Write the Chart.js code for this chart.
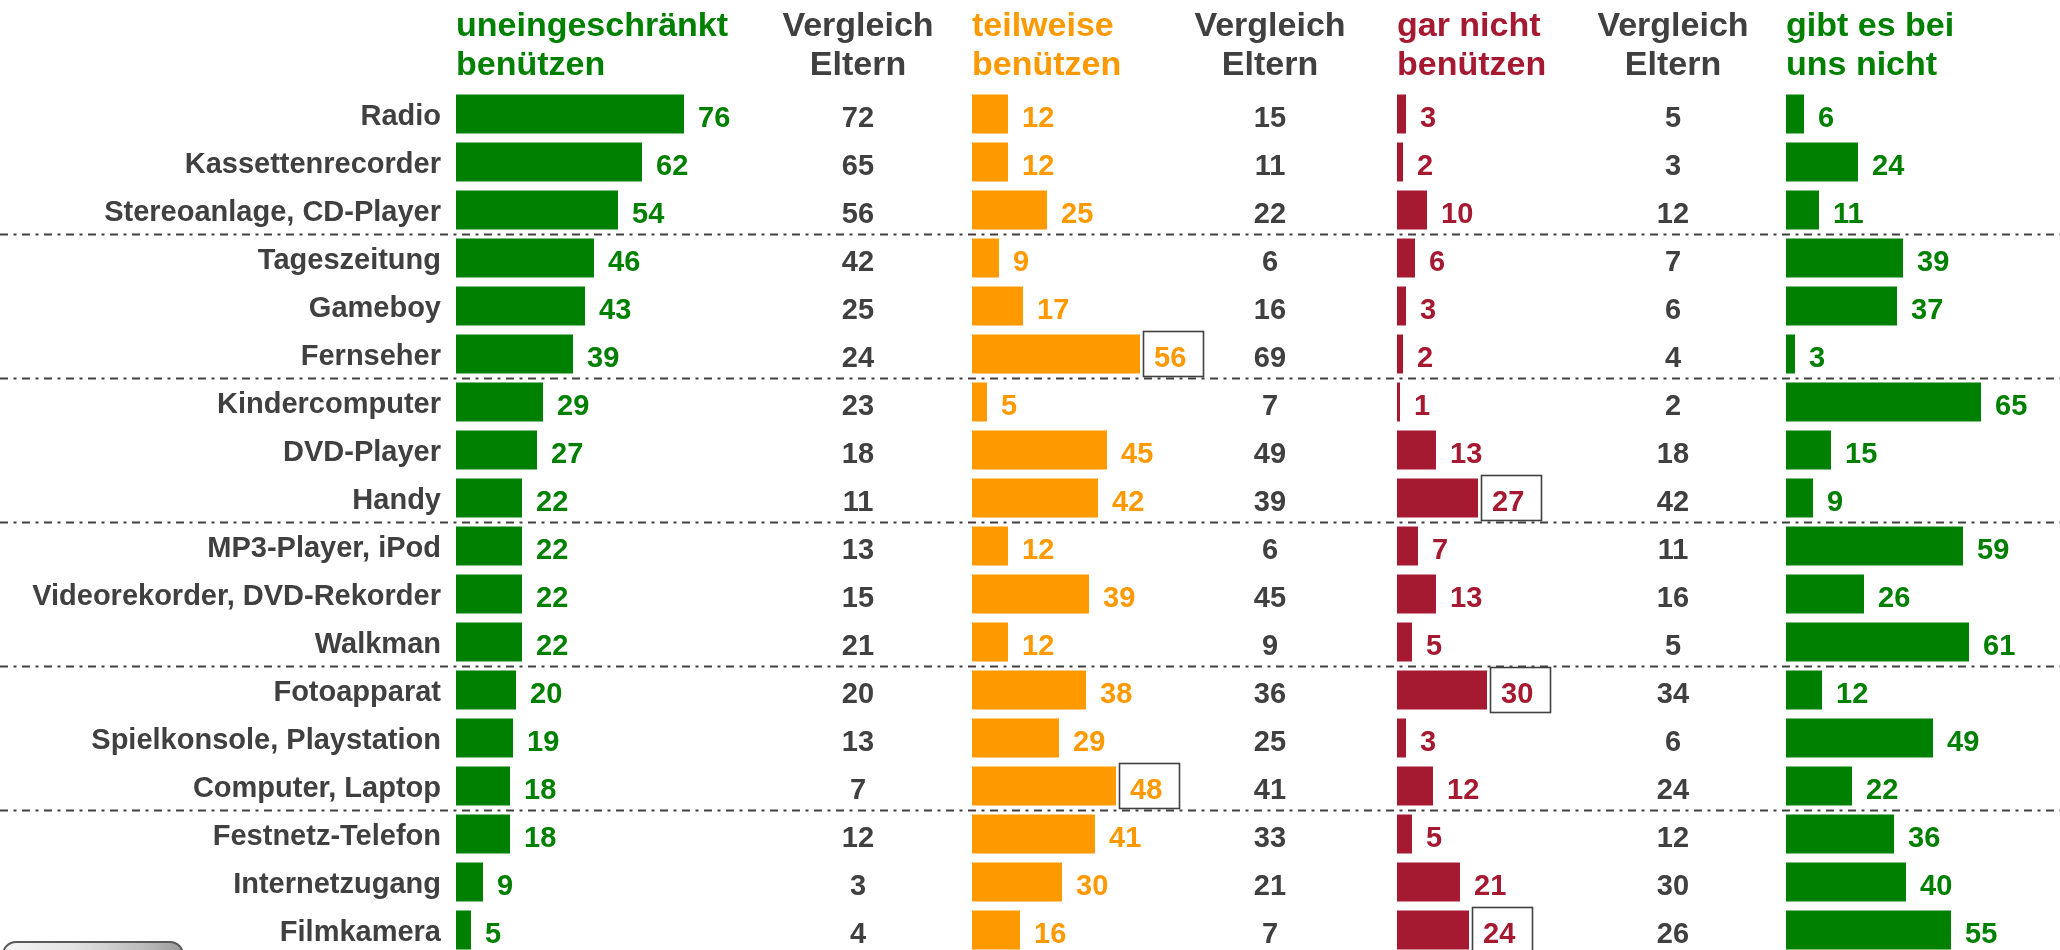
<!DOCTYPE html>
<html>
<head>
<meta charset="utf-8">
<script src="https://cdn.jsdelivr.net/npm/chart.js@4.4.1/dist/chart.umd.min.js"></script>
<style>
  html, body { margin: 0; padding: 0; background: #ffffff; overflow: hidden; }
  #wrap { position: relative; width: 2060px; height: 950px; overflow: hidden; }
  #c { position: absolute; left: 0; top: 0; }
  #btn { position: absolute; left: 2px; top: 941px; width: 178px; height: 30px;
         border: 2px solid #5a5a5a; border-radius: 14px;
         background: linear-gradient(to right, #f6f6f6 0%, #e2e2e2 40%, #b9b9b9 80%, #9a9a9a 100%); }
</style>
</head>
<body>
<div id="wrap">
  <canvas id="c" width="2060" height="962"></canvas>
  <div id="btn"></div>
</div>
<script>
// ---------- data ----------
const categories = [
  "Radio", "Kassettenrecorder", "Stereoanlage, CD-Player", "Tageszeitung", "Gameboy",
  "Fernseher", "Kindercomputer", "DVD-Player", "Handy", "MP3-Player, iPod",
  "Videorekorder, DVD-Rekorder", "Walkman", "Fotoapparat", "Spielkonsole, Playstation",
  "Computer, Laptop", "Festnetz-Telefon", "Internetzugang", "Filmkamera"
];
const uneingeschraenkt = [76, 62, 54, 46, 43, 39, 29, 27, 22, 22, 22, 22, 20, 19, 18, 18, 9, 5];
const elternUneingeschraenkt = [72, 65, 56, 42, 25, 24, 23, 18, 11, 13, 15, 21, 20, 13, 7, 12, 3, 4];
const teilweise = [12, 12, 25, 9, 17, 56, 5, 45, 42, 12, 39, 12, 38, 29, 48, 41, 30, 16];
const elternTeilweise = [15, 11, 22, 6, 16, 69, 7, 49, 39, 6, 45, 9, 36, 25, 41, 33, 21, 7];
const garNicht = [3, 2, 10, 6, 3, 2, 1, 13, 27, 7, 13, 5, 30, 3, 12, 5, 21, 24];
const elternGarNicht = [5, 3, 12, 7, 6, 4, 2, 18, 42, 11, 16, 5, 34, 6, 24, 12, 30, 26];
const gibtNicht = [6, 24, 11, 39, 37, 3, 65, 15, 9, 59, 26, 61, 12, 49, 22, 36, 40, 55];
const markedTeilweise = ["Fernseher", "Computer, Laptop"];
const markedGarNicht = ["Handy", "Fotoapparat", "Filmkamera"];
const groupEnds = ["Stereoanlage, CD-Player", "Fernseher", "Handy", "Walkman", "Computer, Laptop"];
const headerUneingeschraenkt = ["uneingeschränkt", "benützen"];
const headerTeilweise = ["teilweise", "benützen"];
const headerGarNicht = ["gar nicht", "benützen"];
const headerGibtNicht = ["gibt es bei", "uns nicht"];
const headerVergleich = ["Vergleich", "Eltern"];

// ---------- layout / style ----------
const GREEN = "#008000", ORANGE = "#FF9900", RED = "#A51931", GRAY = "#404040";
const FONT = "Arial, 'Liberation Sans', sans-serif";
const AREA_LEFT = 456, AREA_RIGHT = 2060, PX_PER_UNIT = 3;
const ZERO = { xU: 456, xT: 972, xG: 1397, xN: 1786 };
const VGL_X = [858, 1270, 1673];

function valueAxis(id) {
  const min = -(ZERO[id] - AREA_LEFT) / PX_PER_UNIT;
  return { type: "linear", display: false, min: min, max: min + (AREA_RIGHT - AREA_LEFT) / PX_PER_UNIT };
}

const overlay = {
  id: "overlay",
  beforeDatasetsDraw(chart) {
    const ctx = chart.ctx, y = chart.scales.y;
    ctx.save();
    ctx.strokeStyle = GRAY;
    ctx.lineWidth = 1.8;
    ctx.setLineDash([8, 5.5, 3, 5.5]);
    groupEnds.forEach(name => {
      const i = categories.indexOf(name);
      const py = Math.round((y.getPixelForValue(i) + y.getPixelForValue(i + 1)) / 2) + 0.5;
      ctx.beginPath();
      ctx.moveTo(0, py);
      ctx.lineTo(2060, py);
      ctx.stroke();
    });
    ctx.restore();
  },
  afterDatasetsDraw(chart) {
    const ctx = chart.ctx, y = chart.scales.y;
    ctx.save();
    ctx.font = "bold 29px " + FONT;
    ctx.textBaseline = "alphabetic";
    chart.data.datasets.forEach((ds, di) => {
      const meta = chart.getDatasetMeta(di);
      meta.data.forEach((el, i) => {
        const marked = (ds.marked || []).includes(categories[i]);
        if (marked) {
          ctx.save();
          ctx.setLineDash([]);
          ctx.strokeStyle = GRAY;
          ctx.lineWidth = 1.6;
          ctx.strokeRect(Math.round(el.x) + 3.5, Math.round(el.y) - 22.5, 60, 45);
          ctx.restore();
        }
        ctx.fillStyle = ds.labelColor;
        ctx.textAlign = "left";
        ctx.fillText(String(ds.data[i]), el.x + 14, el.y + 13);
      });
    });
    [elternUneingeschraenkt, elternTeilweise, elternGarNicht].forEach((arr, k) => {
      ctx.fillStyle = GRAY;
      ctx.textAlign = "center";
      arr.forEach((v, i) => ctx.fillText(String(v), VGL_X[k], y.getPixelForValue(i) + 13));
    });
    ctx.restore();
  },
  afterDraw(chart) {
    const ctx = chart.ctx;
    ctx.save();
    ctx.font = "bold 34px " + FONT;
    ctx.textBaseline = "alphabetic";
    const heads = [
      [headerUneingeschraenkt, ZERO.xU, GREEN, "left"],
      [headerTeilweise, ZERO.xT, ORANGE, "left"],
      [headerGarNicht, ZERO.xG, RED, "left"],
      [headerGibtNicht, ZERO.xN, GREEN, "left"],
      [headerVergleich, VGL_X[0], GRAY, "center"],
      [headerVergleich, VGL_X[1], GRAY, "center"],
      [headerVergleich, VGL_X[2], GRAY, "center"]
    ];
    heads.forEach(([lines, x, col, align]) => {
      ctx.fillStyle = col;
      ctx.textAlign = align;
      ctx.fillText(lines[0], x, 36);
      ctx.fillText(lines[1], x, 75);
    });
    ctx.restore();
  }
};

const barCommon = { grouped: false, barPercentage: 39 / 48, categoryPercentage: 1, borderWidth: 0 };

new Chart(document.getElementById("c"), {
  type: "bar",
  data: {
    labels: categories,
    datasets: [
      Object.assign({ label: "uneingeschränkt benützen", data: uneingeschraenkt, xAxisID: "xU", backgroundColor: GREEN, labelColor: GREEN }, barCommon),
      Object.assign({ label: "teilweise benützen", data: teilweise, xAxisID: "xT", backgroundColor: ORANGE, labelColor: ORANGE, marked: markedTeilweise }, barCommon),
      Object.assign({ label: "gar nicht benützen", data: garNicht, xAxisID: "xG", backgroundColor: RED, labelColor: RED, marked: markedGarNicht }, barCommon),
      Object.assign({ label: "gibt es bei uns nicht", data: gibtNicht, xAxisID: "xN", backgroundColor: GREEN, labelColor: GREEN }, barCommon)
    ]
  },
  options: {
    indexAxis: "y",
    responsive: false,
    animation: false,
    events: [],
    layout: { padding: { top: 90, bottom: 8, left: 0, right: 0 } },
    plugins: { legend: { display: false }, tooltip: { enabled: false }, title: { display: false } },
    scales: {
      y: {
        type: "category",
        position: "left",
        grid: { display: false, drawTicks: false },
        border: { display: false },
        ticks: { color: GRAY, font: { family: FONT, size: 29, weight: "bold" }, padding: 15, labelOffset: 3, autoSkip: false },
        afterFit(scale) { scale.width = AREA_LEFT; scale.paddingTop = 0; scale.paddingBottom = 0; }
      },
      xU: valueAxis("xU"),
      xT: valueAxis("xT"),
      xG: valueAxis("xG"),
      xN: valueAxis("xN")
    }
  },
  plugins: [overlay]
});
</script>
</body>
</html>
